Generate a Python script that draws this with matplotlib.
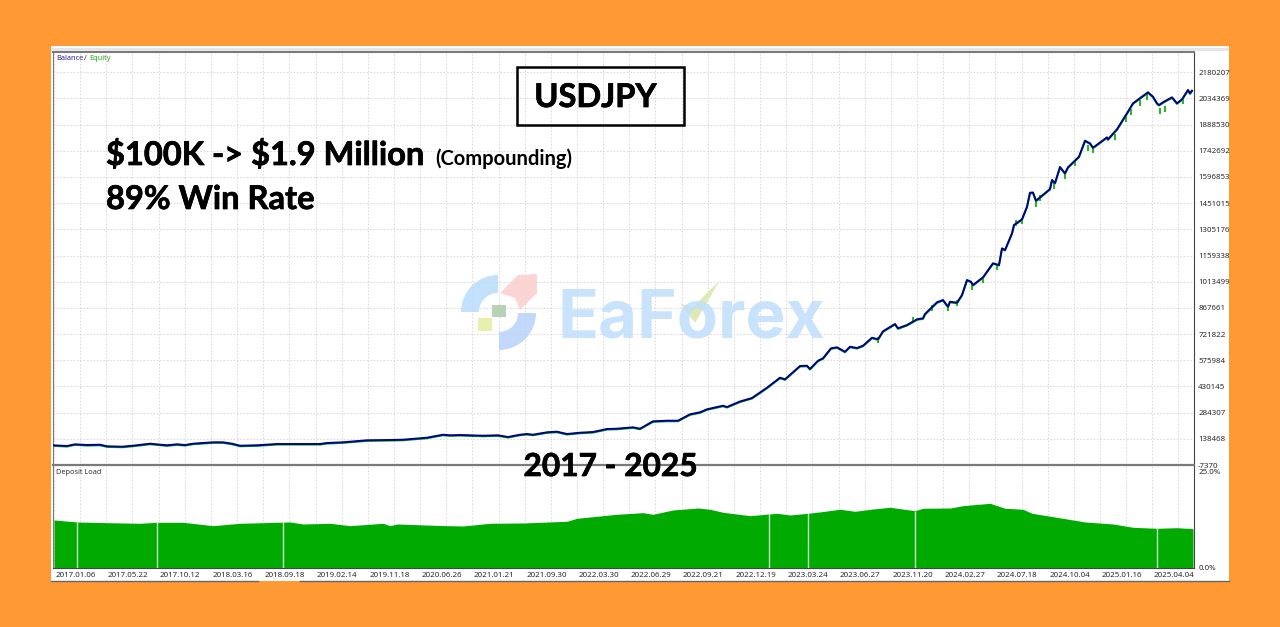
import numpy as np
import matplotlib
matplotlib.use('Agg')
import matplotlib.pyplot as plt
from matplotlib import transforms
import matplotlib.patheffects as pe
from matplotlib.patches import Rectangle, Wedge, Polygon

# x axis is the trade number, date labels sit on every 52.3 trades
trades = [0, 14, 22, 34, 47, 54, 69, 80, 97, 114, 124, 132, 140, 160, 170, 179, 187, 204, 224, 250,
          267, 274, 290, 314, 337, 350, 374, 390, 397, 407, 430, 445, 455, 467, 474, 480, 494, 504, 514, 527,
          540, 554, 564, 580, 587, 600, 614, 625, 637, 647, 654, 670, 674, 687, 699, 714, 727, 732, 747, 754,
          757, 765, 770, 778, 784, 792, 797, 804, 810, 819, 825, 830, 842, 845, 854, 864, 870, 872, 884, 890,
          895, 897, 904, 909, 914, 918, 920, 930, 940, 946, 949, 952, 959, 961, 969, 974, 977, 980, 983, 997,
          999, 1002, 1007, 1012, 1015, 1026, 1032, 1037, 1040, 1054, 1055, 1064, 1074, 1080, 1095, 1100, 1104, 1106, 1111, 1119,
          1124, 1129, 1135, 1137, 1139]
balance = [102400, 98500, 107900, 104000, 105700, 96800, 94600, 100100, 111300, 102400, 107900, 104000, 111300, 119100, 119100, 111300, 100100, 102400, 109600, 109600,
           109600, 115200, 119100, 130200, 131900, 133600, 144700, 161400, 158100, 159700, 155800, 158100, 148600, 161400, 165300, 161400, 174800, 178100, 165300, 172500,
           176400, 193200, 194800, 202600, 194800, 236000, 239400, 239400, 275000, 286200, 302900, 322900, 315700, 346300, 365800, 423200, 478900, 470000, 544100, 545700,
           527400, 573600, 586900, 642600, 648200, 623700, 651600, 644300, 657100, 701700, 692800, 737300, 778000, 754000, 772400, 804200, 809700, 833700, 898900, 911700,
           874400, 902200, 896600, 939500, 1023100, 1013600, 995200, 1038100, 1116100, 1106600, 1199600, 1190200, 1283200, 1329400, 1361200, 1431400, 1509300, 1510500, 1464800, 1530000,
           1580100, 1563400, 1652500, 1617400, 1650800, 1709900, 1799000, 1784500, 1760000, 1817900, 1806800, 1862500, 1951600, 2007300, 2068600, 2044100, 2007300, 1997800, 2016200, 2040700,
           2007300, 2029600, 2081400, 2063000, 2077500]

# equity dips that show below the balance line
dip_trades = [825, 860, 879, 895, 904, 919, 930, 944, 963, 969, 983, 987, 1001, 1012, 1022, 1035, 1040, 1062, 1073, 1078, 1087, 1094, 1107, 1112, 1130]
dip_equity = [688900, 800300, 867100, 869900, 895000, 984100, 1023100, 1095500, 1340600, 1351700, 1446400, 1480000, 1546700, 1602400, 1674800, 1758300, 1747200, 1819600, 1919900, 1958800, 2009000, 2042400, 1964400, 1975600, 2020100]

load_trades = [1, 24, 54, 87, 104, 130, 160, 187, 237, 250, 277, 297, 330, 337, 344, 387, 410, 437, 470, 514,
               524, 564, 590, 600, 620, 645, 657, 670, 697, 724, 737, 755, 764, 787, 802, 820, 837, 862, 870, 897,
               910, 937, 952, 970, 979, 1000, 1032, 1060, 1080, 1104, 1124, 1140]
deposit_load = [12.44, 11.92, 11.74, 11.58, 11.84, 11.84, 10.96, 11.58, 11.92, 11.40, 11.58, 10.96, 11.58, 10.96, 11.40, 11.01, 10.88, 11.58, 11.66, 12.10,
                12.88, 13.91, 14.33, 13.91, 15.03, 15.54, 15.21, 14.43, 13.55, 14.17, 13.73, 14.17, 14.43, 15.21, 14.69, 15.28, 15.73, 14.84, 15.47, 15.54,
                16.14, 16.76, 15.47, 15.21, 14.17, 13.29, 11.92, 11.40, 10.54, 10.28, 10.44, 10.18]
gap_trades = [24, 104, 230, 716, 755, 862, 1104]
gap_loads = [11.9, 11.8, 11.9, 14.1, 14.2, 14.8, 10.3]

y_ticks = [2180207, 2034369, 1888530, 1742692, 1596853, 1451015, 1305176, 1159338, 1013499, 867661,
           721822, 575984, 430145, 284307, 138468, -7370]
date_labels = ['2017.01.06', '2017.05.22', '2017.10.12', '2018.03.16', '2018.09.18', '2019.02.14',
               '2019.11.18', '2020.06.26', '2021.01.21', '2021.09.30', '2022.03.30', '2022.06.29',
               '2022.09.21', '2022.12.19', '2023.03.24', '2023.06.27', '2023.11.20', '2024.02.27',
               '2024.07.18', '2024.10.04', '2025.01.16', '2025.04.04']

W, H = 1280, 627
ORANGE = '#FF9933'
GRID = '#dcdcdc'
AXC = '#7a7a7a'
LBL = '#2a2a2a'
SMALL = 5.7


def px_rect(l, t, r, b):
    return [l / W, 1 - b / H, (r - l) / W, (b - t) / H]


fig = plt.figure(figsize=(W / 100, H / 100), dpi=100, facecolor=ORANGE)
fig.patches.append(Rectangle((51 / W, 1 - 581 / H), 1178 / W, 535 / H, transform=fig.transFigure,
                             facecolor='white', edgecolor='none', zorder=-1))

ax = fig.add_axes(px_rect(53, 52, 1194, 465), facecolor='none')
ax2 = fig.add_axes(px_rect(53, 466, 1194, 568), facecolor='none')
grid_x = np.arange(1, 1141, 26.15)
date_x = np.arange(len(date_labels)) * 52.3 + 1

ax.set_xlim(0, 1141)
ax.set_ylim(-7370, 2293040)
ax.set_yticks(y_ticks)
ax.set_yticklabels([str(v) for v in y_ticks])
ax.set_xticks(grid_x)
ax.tick_params(axis='x', length=0, labelbottom=False)
ax.tick_params(axis='y', length=0, right=True, left=False, labelright=True, labelleft=False,
               labelsize=SMALL, labelcolor=LBL, pad=3)
ax.grid(True, color=GRID, lw=0.8, ls=(0, (1.5, 1.5)))
ax.set_axisbelow(True)

# equity runs a hair under the balance line
eq_shift = transforms.offset_copy(ax.transData, fig, y=-0.6, units='dots')
ax.plot(trades, balance, color='#00b000', lw=1.4, transform=eq_shift, zorder=2)
ax.plot(dip_trades, dip_equity, ls='none', marker='|', ms=4.5, mew=1.3, color='#10b010', zorder=2)
ax.plot(trades, balance, color='#00008B', lw=1.4, zorder=3)

ax2.set_xlim(0, 1141)
ax2.set_ylim(0, 26.42)
ax2.set_yticks([0, 25])
ax2.set_yticklabels(['0.0%', '25.0%'])
ax2.set_xticks(grid_x)
ax2.set_xticklabels([])
ax2.tick_params(axis='both', length=0)
ax2.tick_params(axis='y', right=True, left=False, labelright=True, labelleft=False,
                labelsize=SMALL, labelcolor=LBL, pad=3)
ax2.grid(True, axis='x', color=GRID, lw=0.8, ls=(0, (1.5, 1.5)))
ax2.set_axisbelow(True)
ax2.fill_between(load_trades, deposit_load, 0, color='#00AA00', lw=0, zorder=2)
ax2.vlines(gap_trades, 0, gap_loads, color='#c6f0c6', lw=1.0, zorder=3)
for x, lab in zip(date_x, date_labels):
    ax2.annotate(lab, (x, 0), xytext=(1, -3), textcoords='offset points', ha='left', va='top',
                 fontsize=SMALL, color=LBL, family='Noto Sans')

for a in (ax, ax2):
    for s in a.spines.values():
        s.set_color(AXC)
        s.set_linewidth(0.8)
    for t in a.get_yticklabels():
        t.set_family('Noto Sans')
ax.spines['top'].set_linewidth(1.5)
ax.spines['bottom'].set_linewidth(1.6)
ax2.spines['top'].set_visible(False)
ax2.spines['right'].set_color('#444444')
ax.spines['right'].set_color('#444444')
ax2.spines['bottom'].set_color('#444444')

# overlay in pixel coordinates for the pasted title text, box and watermark
top = fig.add_axes([0, 0, 1, 1], facecolor='none', zorder=5)
top.set_xlim(0, W)
top.set_ylim(H, 0)
top.axis('off')

top.plot([51, 258], [581, 581], color='#666666', lw=1)
top.plot([300, 1229], [581, 581], color='#666666', lw=1)
top.add_patch(Rectangle((51, 48), 1178, 3, facecolor='#e6e6e6', edgecolor='none'))

# watermark
top.add_patch(Wedge((498, 312), 37, 180, 270, width=18, facecolor='#b9dcfb', edgecolor='none', alpha=0.85))
top.add_patch(Wedge((499, 313), 37, 0, 90, width=18, facecolor='#b9d3fb', edgecolor='none', alpha=0.85))
top.add_patch(Polygon([(500, 293), (518, 275), (537, 274), (537, 293), (520, 310), (515, 298)],
                      facecolor='#fbd0d0', edgecolor='none', alpha=0.9))
top.add_patch(Rectangle((492, 305), 14, 12, facecolor='#b7d2b4', edgecolor='none'))
top.add_patch(Rectangle((478, 318), 14, 13, facecolor='#e8f0ae', edgecolor='none'))
top.text(557, 337, 'EaForex', fontsize=48.5, fontweight='bold', family='Inter', color='#bfdffb',
         ha='left', va='baseline', alpha=0.85)
top.add_patch(Polygon([(680, 303), (692, 308), (720, 280), (695, 323)], facecolor='#dfe9b5', edgecolor='none'))

# small chart captions
top.text(56, 58, 'Balance', fontsize=5.3, color='#2a2a9a', family='Noto Sans', va='center')
top.text(84, 58, '/', fontsize=5.3, color='#333333', family='Noto Sans', va='center')
top.text(89, 58, 'Equity', fontsize=5.3, color='#22aa22', family='Noto Sans', va='center')
top.text(56, 472.5, 'Deposit Load', fontsize=5.3, color='#333333', family='Noto Sans', va='center')

# pasted headline text
BIG = 23.5
heavy = [pe.withStroke(linewidth=0.5, foreground='black')]
top.add_patch(Rectangle((516.5, 66.5), 167, 58, facecolor='none', edgecolor='black', lw=1.8))
top.text(595.5, 107, 'USDJPY', fontsize=BIG, fontweight='bold', family='Lato', ha='center', va='baseline',
         color='black', path_effects=heavy)
top.text(106, 165, r'\$100K -> \$1.9 Million', fontsize=BIG, fontweight='bold', family='Lato', va='baseline',
         color='black', path_effects=heavy)
top.text(435, 165, '(Compounding)', fontsize=14.5, fontweight='bold', family='Lato', va='baseline', color='black')
top.text(106, 209, '89% Win Rate', fontsize=BIG, fontweight='bold', family='Lato', va='baseline',
         color='black', path_effects=heavy)
top.text(610.5, 476, '2017 - 2025', fontsize=22.8, fontweight='bold', family='Lato', ha='center', va='baseline',
         color='black', path_effects=heavy)

fig.savefig('out.png', dpi=100, facecolor=fig.get_facecolor())
